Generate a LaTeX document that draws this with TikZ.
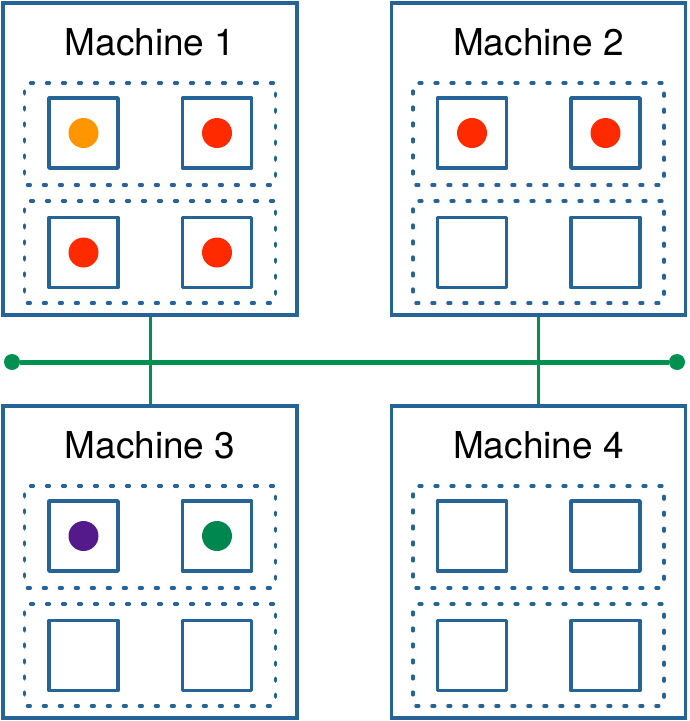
\documentclass[tikz,border=0pt]{standalone}
\usepackage{fontspec}
\setmainfont{TeX Gyre Heros}
\usetikzlibrary{graphs}
\definecolor{boxblue}{RGB}{38,99,150}
\definecolor{busgreen}{RGB}{0,145,80}
\definecolor{joborange}{RGB}{255,149,0}
\definecolor{jobred}{RGB}{255,42,0}
\definecolor{jobpurple}{RGB}{84,26,140}
\definecolor{jobgreen}{RGB}{0,135,80}
\tikzset{
  machine/.style= {draw=boxblue, line width=3.5pt, minimum width=294pt, minimum height=312pt, inner sep=0},
  group/.style= {draw=boxblue, line width=3.2pt, dash pattern=on 3pt off 13pt, line cap=round, rounded corners=2pt, minimum width=251pt, minimum height=102pt, inner sep=0},
  slot/.style= {draw=boxblue, line width=3.5pt, line join=round, minimum width=69pt, minimum height=70pt, inner sep=0},
  task/.style= {circle, minimum size=30pt, inner sep=0},
  hub/.style= {circle, fill=busgreen, minimum size=16pt, inner sep=0},
  title/.style= {font=\fontsize{37}{40}\selectfont, anchor=base, inner sep=0},
  bus/.style= {draw=busgreen, line width=5pt},
  link/.style= {draw=busgreen, line width=3pt},
}

\begin{document}
\begin{tikzpicture}[x=1pt, y=-1pt]
  \useasboundingbox (0,0) rectangle (689,721);
  \foreach \m/\x/\y in {1/150/159, 2/538.5/159, 3/150/562, 4/538.5/562} {
    \node [machine] (m\m) at (\x,\y) {} ;
    \node [title] (t\m) at (\x,\y-104) {Machine \m} ;
    \node [group] (g\m a) at (\x,\y-25) {} ;
    \node [group] (g\m b) at (\x,\y+93) {} ;
    \node [slot] (m\m a) at (\x-66.5,\y-26) {} ;
    \node [slot] (m\m b) at (\x+67,\y-26) {} ;
    \node [slot] (m\m c) at (\x-66.5,\y+93.5) {} ;
    \node [slot] (m\m d) at (\x+67,\y+93.5) {} ;
  }
  \node [task, fill=joborange] (j1) at (m1a) {} ;
  \node [task, fill=jobred] (j2) at (m1b) {} ;
  \node [task, fill=jobred] (j3) at (m1c) {} ;
  \node [task, fill=jobred] (j4) at (m1d) {} ;
  \node [task, fill=jobred] (j5) at (m2a) {} ;
  \node [task, fill=jobred] (j6) at (m2b) {} ;
  \node [task, fill=jobpurple] (j7) at (m3a) {} ;
  \node [task, fill=jobgreen] (j8) at (m3b) {} ;

  \node [hub] (busL) at (12,362) {} ;
  \node [hub] (busR) at (677,362) {} ;

  \graph [edges=link] {
    (m1) -- (m3) ;
    (m2) -- (m4) ;
  } ;
  \graph [edges=bus] {
    (busL) -- (busR) ;
  } ;
\end{tikzpicture}
\end{document}
